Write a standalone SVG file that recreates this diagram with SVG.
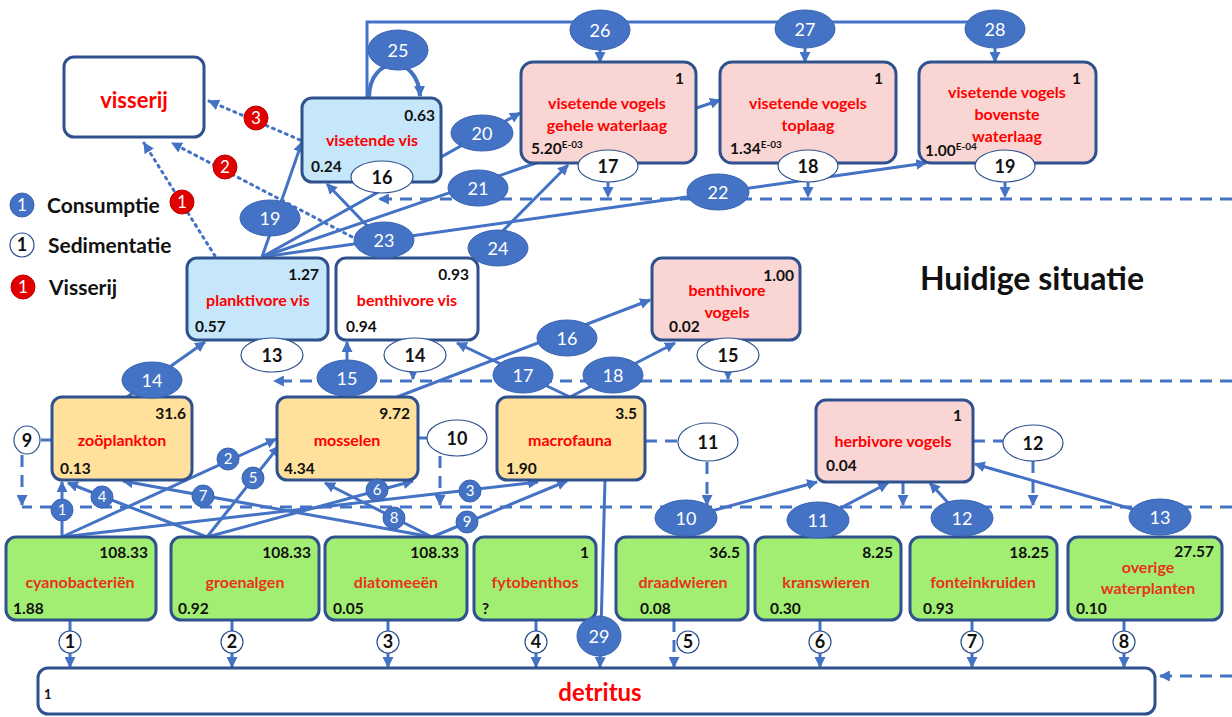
<svg xmlns="http://www.w3.org/2000/svg" width="1232" height="717" viewBox="0 0 1232 717">
<defs>
<style>
.c{fill:none;stroke:#4472C4;stroke-width:3}
.d{fill:none;stroke:#4472C4;stroke-width:3;stroke-dasharray:12 8}
.p{fill:none;stroke:#4472C4;stroke-width:3;stroke-dasharray:2 5;stroke-linecap:round}
.box{stroke:#2F528F;stroke-width:3}
.w{fill:#FFFFFF}.lb{fill:#C6E7F9}.pk{fill:#F9D6D4}.or{fill:#FFE19C}.gr{fill:#A2EE72}
.n{font-family:Lato,"Liberation Sans",sans-serif;font-weight:bold;font-size:16px;fill:#FF0000;text-anchor:middle}
.ng{font-family:Lato,"Liberation Sans",sans-serif;font-weight:bold;font-size:16px;fill:#E8321C;text-anchor:middle}
.v{font-family:Lato,"Liberation Sans",sans-serif;font-weight:bold;font-size:15.5px;fill:#111}
.e{text-anchor:end}
.be{fill:#4472C4;stroke:#3A64B0;stroke-width:1}
.we{fill:#FFFFFF;stroke:#2F528F;stroke-width:1.2}
.re{fill:#E00000;stroke:#C00000;stroke-width:1}
.ft{font-family:Lato,"Liberation Sans",sans-serif;font-size:18px;fill:#FFFFFF;text-anchor:middle}
.fs{font-family:Lato,"Liberation Sans",sans-serif;font-size:15px;fill:#FFFFFF;text-anchor:middle}
.st{font-family:Lato,"Liberation Sans",sans-serif;font-weight:bold;font-size:18px;fill:#111;text-anchor:middle}
.lg{font-family:Lato,"Liberation Sans",sans-serif;font-weight:bold;font-size:21px;fill:#111}
</style>
<marker id="a" viewBox="0 0 10 10" refX="9" refY="5" markerWidth="11" markerHeight="11" markerUnits="userSpaceOnUse" orient="auto"><path d="M0,0 L10,5 L0,10 z" fill="#4472C4"/></marker>
</defs>
<rect width="1232" height="717" fill="#FFFFFF"/>

<g id="connectors">
<path class="c" d="M367,98 L367,22 L995,22"/>
<path class="c" d="M600,44 L600,62" marker-end="url(#a)"/>
<path class="c" d="M805,44 L805,62" marker-end="url(#a)"/>
<path class="c" d="M995,44 L995,62" marker-end="url(#a)"/>
<path class="c" style="stroke-width:4" d="M369,97 C370,54 418,54 420,96" marker-end="url(#a)"/>
<path class="c" d="M262,257 L302,142" marker-end="url(#a)"/>
<path class="c" d="M262,257 L520,113" marker-end="url(#a)"/>
<path class="c" d="M262,257 L720,100" marker-end="url(#a)"/>
<path class="c" d="M262,257 L926,163" marker-end="url(#a)"/>
<path class="c" d="M397,257 L327,184" marker-end="url(#a)"/>
<path class="c" d="M470,264 L568,165" marker-end="url(#a)"/>
<path class="c" d="M127,397 L205,342" marker-end="url(#a)"/>
<path class="c" d="M347,397 L347,342" marker-end="url(#a)"/>
<path class="c" d="M397,397 L650,300" marker-end="url(#a)"/>
<path class="c" d="M570,397 L457,343" marker-end="url(#a)"/>
<path class="c" d="M570,397 L675,343" marker-end="url(#a)"/>
<path class="c" d="M62,537 L62,482" marker-end="url(#a)"/>
<path class="c" d="M62,537 L276,439" marker-end="url(#a)"/>
<path class="c" d="M62,537 L538,482" marker-end="url(#a)"/>
<path class="c" d="M207,537 L68,483" marker-end="url(#a)"/>
<path class="c" d="M207,537 L279,446" marker-end="url(#a)"/>
<path class="c" d="M207,537 L413,481" marker-end="url(#a)"/>
<path class="c" d="M432,537 L123,481" marker-end="url(#a)"/>
<path class="c" d="M432,537 L325,483" marker-end="url(#a)"/>
<path class="c" d="M432,537 L567,481" marker-end="url(#a)"/>
<path class="c" d="M686,518 L817,482" marker-end="url(#a)"/>
<path class="c" d="M818,520 L888,483" marker-end="url(#a)"/>
<path class="c" d="M962,518 L930,483" marker-end="url(#a)"/>
<path class="c" d="M1160,517 L975,464" marker-end="url(#a)"/>
<path class="c" d="M605,480 L600,667" marker-end="url(#a)"/>
<path class="c" d="M70,620 L70,667" marker-end="url(#a)"/>
<path class="c" d="M232,620 L232,667" marker-end="url(#a)"/>
<path class="c" d="M388,620 L388,667" marker-end="url(#a)"/>
<path class="c" d="M536,620 L536,667" marker-end="url(#a)"/>
<path class="d" d="M674,620 L674,667" marker-end="url(#a)"/>
<path class="c" d="M820,620 L820,667" marker-end="url(#a)"/>
<path class="c" d="M972,620 L972,667" marker-end="url(#a)"/>
<path class="c" d="M1124,620 L1124,667" marker-end="url(#a)"/>
<path class="c" d="M41,440 L52,440"/>
<path class="c" d="M418,438 L428,438"/>
<path class="d" d="M645,441 L678,441"/>
<path class="d" d="M973,441 L1003,441"/>
<path class="d" d="M1232,199 L379,199" marker-end="url(#a)"/>
<path class="d" d="M608,182 L608,197" marker-end="url(#a)"/>
<path class="d" d="M808,182 L808,197" marker-end="url(#a)"/>
<path class="d" d="M1005,182 L1005,197" marker-end="url(#a)"/>
<path class="d" d="M1232,381 L274,381" marker-end="url(#a)"/>
<path class="d" d="M413,371 L413,379" marker-end="url(#a)"/>
<path class="d" d="M728,372 L728,379" marker-end="url(#a)"/>
<path class="d" d="M1232,507 L22,507"/>
<path class="d" d="M22,455 L22,505" marker-end="url(#a)"/>
<path class="d" d="M440,456 L440,505" marker-end="url(#a)"/>
<path class="d" d="M707,462 L707,505" marker-end="url(#a)"/>
<path class="d" d="M903,482 L903,505" marker-end="url(#a)"/>
<path class="d" d="M1033,461 L1033,505" marker-end="url(#a)"/>
<path class="d" d="M1232,676 L1160,676" marker-end="url(#a)"/>
<path class="p" d="M300,140 L209,101" marker-end="url(#a)"/>
<path class="p" d="M358,240 L172,143" marker-end="url(#a)"/>
<path class="p" d="M215,256 L144,143" marker-end="url(#a)"/>
</g>

<g id="visserij"><rect class="box w" x="64" y="57" width="140" height="80" rx="10"/><text x="134" y="108" class="n" style="font-size:22px">visserij</text></g>

<g id="visetende-vis"><rect class="box lb" x="302" y="98" width="139" height="84" rx="10"/><text x="435" y="121" class="v e">0.63</text><text x="372" y="146" class="n">visetende vis</text><text x="311" y="172" class="v">0.24</text></g>

<g id="vogels-gehele"><rect class="box pk" x="521" y="62" width="175" height="101" rx="12"/><text x="684" y="84" class="v e">1</text><text x="607" y="109" class="n">visetende vogels</text><text x="607" y="131" class="n">gehele waterlaag</text><text x="531" y="154" class="v">5.20<tspan font-size="10" dy="-6">E-03</tspan></text></g>

<g id="vogels-toplaag"><rect class="box pk" x="720" y="62" width="176" height="101" rx="12"/><text x="883" y="84" class="v e">1</text><text x="808" y="109" class="n">visetende vogels</text><text x="808" y="131" class="n">toplaag</text><text x="730" y="154" class="v">1.34<tspan font-size="10" dy="-6">E-03</tspan></text></g>

<g id="vogels-bovenste"><rect class="box pk" x="919" y="62" width="177" height="101" rx="12"/><text x="1081" y="84" class="v e">1</text><text x="1007" y="98" class="n">visetende vogels</text><text x="1007" y="120" class="n">bovenste</text><text x="1007" y="142" class="n">waterlaag</text><text x="925" y="156" class="v">1.00<tspan font-size="10" dy="-6">E-04</tspan></text></g>

<g id="planktivore-vis"><rect class="box lb" x="187" y="258" width="141" height="82" rx="10"/><text x="319" y="280" class="v e">1.27</text><text x="258" y="306" class="n">planktivore vis</text><text x="195" y="332" class="v">0.57</text></g>

<g id="benthivore-vis"><rect class="box w" x="336" y="258" width="142" height="82" rx="10"/><text x="469" y="280" class="v e">0.93</text><text x="407" y="306" class="n">benthivore vis</text><text x="346" y="332" class="v">0.94</text></g>

<g id="benthivore-vogels"><rect class="box pk" x="652" y="258" width="148" height="82" rx="10"/><text x="794" y="281" class="v e">1.00</text><text x="727" y="296" class="n">benthivore</text><text x="727" y="318" class="n">vogels</text><text x="669" y="332" class="v">0.02</text></g>

<g id="zooplankton"><rect class="box or" x="52" y="397" width="140" height="83" rx="10"/><text x="186" y="419" class="v e">31.6</text><text x="122" y="446" class="n">zoöplankton</text><text x="60" y="474" class="v">0.13</text></g>

<g id="mosselen"><rect class="box or" x="277" y="397" width="141" height="83" rx="10"/><text x="410" y="419" class="v e">9.72</text><text x="347" y="446" class="n">mosselen</text><text x="284" y="474" class="v">4.34</text></g>

<g id="macrofauna"><rect class="box or" x="497" y="397" width="148" height="83" rx="10"/><text x="637" y="419" class="v e">3.5</text><text x="570" y="446" class="n">macrofauna</text><text x="506" y="474" class="v">1.90</text></g>

<g id="herbivore-vogels"><rect class="box pk" x="816" y="400" width="157" height="82" rx="10"/><text x="962" y="421" class="v e">1</text><text x="893" y="447" class="n">herbivore vogels</text><text x="826" y="471" class="v">0.04</text></g>

<g id="cyanobacterien"><rect class="box gr" x="6" y="537" width="150" height="83" rx="10"/><text x="148" y="558" class="v e">108.33</text><text x="80" y="588" class="ng">cyanobacteriën</text><text x="13" y="614" class="v">1.88</text></g>
<g id="groenalgen"><rect class="box gr" x="171" y="537" width="148" height="83" rx="10"/><text x="311" y="558" class="v e">108.33</text><text x="245" y="588" class="ng">groenalgen</text><text x="178" y="614" class="v">0.92</text></g>
<g id="diatomeeen"><rect class="box gr" x="325" y="537" width="142" height="83" rx="10"/><text x="459" y="558" class="v e">108.33</text><text x="396" y="588" class="ng">diatomeeën</text><text x="333" y="614" class="v">0.05</text></g>
<g id="fytobenthos"><rect class="box gr" x="474" y="537" width="122" height="83" rx="10"/><text x="589" y="558" class="v e">1</text><text x="535" y="588" class="ng">fytobenthos</text><text x="482" y="614" class="v">?</text></g>
<g id="draadwieren"><rect class="box gr" x="616" y="537" width="132" height="83" rx="10"/><text x="740" y="558" class="v e">36.5</text><text x="683" y="588" class="ng">draadwieren</text><text x="640" y="614" class="v">0.08</text></g>
<g id="kranswieren"><rect class="box gr" x="755" y="537" width="146" height="83" rx="10"/><text x="893" y="558" class="v e">8.25</text><text x="826" y="588" class="ng">kranswieren</text><text x="770" y="614" class="v">0.30</text></g>
<g id="fonteinkruiden"><rect class="box gr" x="910" y="537" width="147" height="83" rx="10"/><text x="1049" y="558" class="v e">18.25</text><text x="983" y="588" class="ng">fonteinkruiden</text><text x="923" y="614" class="v">0.93</text></g>
<g id="overige-waterplanten"><rect class="box gr" x="1068" y="537" width="154" height="83" rx="10"/><text x="1214" y="557" class="v e">27.57</text><text x="1148" y="573" class="ng">overige</text><text x="1148" y="594" class="ng">waterplanten</text><text x="1076" y="614" class="v">0.10</text></g>

<g id="detritus"><rect class="box w" x="38" y="668" width="1117" height="46" rx="10"/><text x="44" y="699" class="v" style="font-size:13px">1</text><text x="600" y="701" class="n" style="font-size:24px">detritus</text></g>

<g id="flow-labels">
<ellipse class="be" cx="398" cy="50" rx="30" ry="20"/><text x="398" y="57" class="ft">25</text>
<ellipse class="be" cx="600" cy="30" rx="30" ry="20"/><text x="600" y="37" class="ft">26</text>
<ellipse class="be" cx="805" cy="29" rx="30" ry="19"/><text x="805" y="36" class="ft">27</text>
<ellipse class="be" cx="995" cy="29" rx="30" ry="19"/><text x="995" y="36" class="ft">28</text>
<ellipse class="be" cx="482" cy="133" rx="31" ry="18"/><text x="482" y="140" class="ft">20</text>
<ellipse class="be" cx="478" cy="188" rx="30" ry="18"/><text x="478" y="195" class="ft">21</text>
<ellipse class="be" cx="718" cy="192" rx="31" ry="18"/><text x="718" y="199" class="ft">22</text>
<ellipse class="be" cx="270" cy="218" rx="30" ry="18"/><text x="270" y="225" class="ft">19</text>
<ellipse class="be" cx="384" cy="240" rx="30" ry="18"/><text x="384" y="247" class="ft">23</text>
<ellipse class="be" cx="498" cy="248" rx="30" ry="18"/><text x="498" y="255" class="ft">24</text>
<ellipse class="be" cx="152" cy="380" rx="30" ry="18"/><text x="152" y="387" class="ft">14</text>
<ellipse class="be" cx="347" cy="378" rx="30" ry="18"/><text x="347" y="385" class="ft">15</text>
<ellipse class="be" cx="567" cy="338" rx="30" ry="18"/><text x="567" y="345" class="ft">16</text>
<ellipse class="be" cx="523" cy="375" rx="30" ry="18"/><text x="523" y="382" class="ft">17</text>
<ellipse class="be" cx="613" cy="375" rx="30" ry="18"/><text x="613" y="382" class="ft">18</text>
<ellipse class="be" cx="686" cy="518" rx="31" ry="18"/><text x="686" y="525" class="ft">10</text>
<ellipse class="be" cx="818" cy="520" rx="31" ry="18"/><text x="818" y="527" class="ft">11</text>
<ellipse class="be" cx="962" cy="518" rx="31" ry="18"/><text x="962" y="525" class="ft">12</text>
<ellipse class="be" cx="1160" cy="517" rx="31" ry="18"/><text x="1160" y="524" class="ft">13</text>
<ellipse class="be" cx="599" cy="636" rx="22" ry="20"/><text x="599" y="643" class="ft">29</text>

<circle class="be" cx="62" cy="510" r="11"/><text x="62" y="515" class="fs">1</text>
<circle class="be" cx="228" cy="459" r="11"/><text x="228" y="464" class="fs">2</text>
<circle class="be" cx="470" cy="491" r="11"/><text x="470" y="496" class="fs">3</text>
<circle class="be" cx="102" cy="497" r="11"/><text x="102" y="502" class="fs">4</text>
<circle class="be" cx="253" cy="478" r="11"/><text x="253" y="483" class="fs">5</text>
<circle class="be" cx="377" cy="490" r="11"/><text x="377" y="495" class="fs">6</text>
<circle class="be" cx="203" cy="496" r="11"/><text x="203" y="501" class="fs">7</text>
<circle class="be" cx="394" cy="518" r="11"/><text x="394" y="523" class="fs">8</text>
<circle class="be" cx="467" cy="522" r="11"/><text x="467" y="527" class="fs">9</text>

<ellipse class="we" cx="382" cy="177" rx="31" ry="16"/><text x="382" y="184" class="st">16</text>
<ellipse class="we" cx="608" cy="166" rx="30" ry="16"/><text x="608" y="173" class="st">17</text>
<ellipse class="we" cx="808" cy="166" rx="30" ry="16"/><text x="808" y="173" class="st">18</text>
<ellipse class="we" cx="1005" cy="166" rx="30" ry="16"/><text x="1005" y="173" class="st">19</text>
<ellipse class="we" cx="272" cy="355" rx="31" ry="17"/><text x="272" y="362" class="st">13</text>
<ellipse class="we" cx="415" cy="355" rx="31" ry="17"/><text x="415" y="362" class="st">14</text>
<ellipse class="we" cx="728" cy="355" rx="31" ry="17"/><text x="728" y="362" class="st">15</text>
<ellipse class="we" cx="27" cy="440" rx="13" ry="14"/><text x="27" y="447" class="st">9</text>
<ellipse class="we" cx="457" cy="438" rx="30" ry="18"/><text x="457" y="445" class="st">10</text>
<ellipse class="we" cx="708" cy="442" rx="30" ry="19"/><text x="708" y="449" class="st">11</text>
<ellipse class="we" cx="1033" cy="443" rx="30" ry="18"/><text x="1033" y="450" class="st">12</text>

<circle class="we" cx="70" cy="642" r="11"/><text x="70" y="648" class="st">1</text>
<circle class="we" cx="232" cy="642" r="11"/><text x="232" y="648" class="st">2</text>
<circle class="we" cx="388" cy="642" r="11"/><text x="388" y="648" class="st">3</text>
<circle class="we" cx="536" cy="642" r="11"/><text x="536" y="648" class="st">4</text>
<circle class="we" cx="688" cy="642" r="11"/><text x="688" y="648" class="st">5</text>
<circle class="we" cx="820" cy="642" r="11"/><text x="820" y="648" class="st">6</text>
<circle class="we" cx="972" cy="642" r="11"/><text x="972" y="648" class="st">7</text>
<circle class="we" cx="1124" cy="642" r="11"/><text x="1124" y="648" class="st">8</text>

<circle class="re" cx="256" cy="118" r="12"/><text x="256" y="124" class="fs" style="font-size:17px">3</text>
<circle class="re" cx="225" cy="167" r="12"/><text x="225" y="173" class="fs" style="font-size:17px">2</text>
<circle class="re" cx="182" cy="202" r="12"/><text x="182" y="208" class="fs" style="font-size:17px">1</text>
</g>

<g id="legend">
<circle class="be" cx="22" cy="205" r="12"/><text x="22" y="211" class="fs" style="font-size:17px">1</text><text x="47" y="213" class="lg">Consumptie</text>
<circle class="we" cx="22" cy="245" r="12"/><text x="22" y="251" class="st">1</text><text x="48" y="253" class="lg">Sedimentatie</text>
<circle class="re" cx="23" cy="287" r="12"/><text x="23" y="293" class="fs" style="font-size:17px">1</text><text x="49" y="295" class="lg">Visserij</text>
</g>

<g id="title"><text x="1032" y="290" style="font-family:Lato,'Liberation Sans',sans-serif;font-weight:bold;font-size:32px;fill:#111;text-anchor:middle">Huidige situatie</text></g>
</svg>
